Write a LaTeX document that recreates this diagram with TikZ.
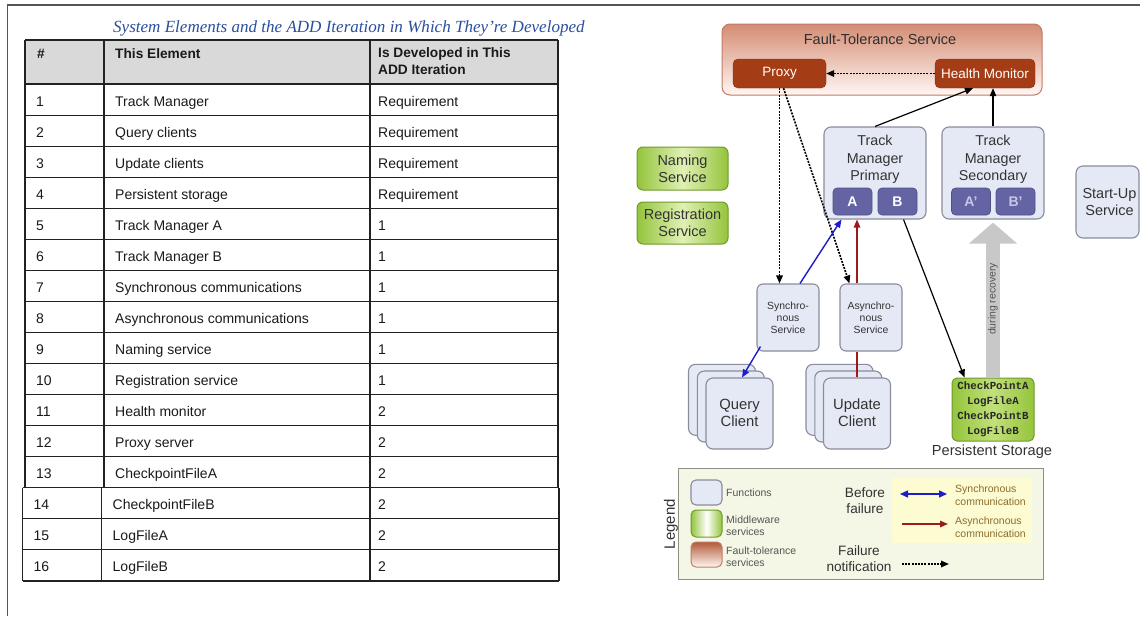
\documentclass[tikz,border=0pt]{standalone}
\usepackage{fontspec}
\setmainfont{Liberation Sans}
\newfontfamily\capfont{Liberation Serif}
\newfontfamily\codefont{Liberation Mono}
\usetikzlibrary{arrows.meta,calc}

\definecolor{framegray}{HTML}{555555}
\definecolor{titleblue}{HTML}{2B4F9E}
\definecolor{headgray}{HTML}{D9D9D9}
\definecolor{tabtext}{HTML}{1A1A1A}
\definecolor{tabline}{HTML}{222222}
\definecolor{fnfill}{HTML}{E4E9F5}
\definecolor{fnline}{HTML}{8A8C9A}
\definecolor{subfill}{HTML}{6464A4}
\definecolor{subtext}{HTML}{C8C8E6}
\definecolor{ftdark}{HTML}{A43D15}
\definecolor{fttop}{HTML}{D48C72}
\definecolor{ftbot}{HTML}{FFF7F4}
\definecolor{ftline}{HTML}{C27A66}
\definecolor{mwedge}{HTML}{94C43C}
\definecolor{mwmid}{HTML}{E0F0B4}
\definecolor{mwline}{HTML}{6F9A2C}
\definecolor{storemid}{HTML}{C2E07A}
\definecolor{syncblue}{HTML}{1C1CC8}
\definecolor{asyncred}{HTML}{9B1B1B}
\definecolor{recgray}{HTML}{C8C8C8}
\definecolor{legfill}{HTML}{F4F6E6}
\definecolor{legline}{HTML}{8E8E84}
\definecolor{noteyellow}{HTML}{FCFBD2}
\definecolor{notetext}{HTML}{8C6D2E}
\definecolor{darktext}{HTML}{333333}
\definecolor{smalltext}{HTML}{555555}

\tikzset{
  cell/.style={anchor=base west, inner sep=0pt, text=tabtext, font=\fontsize{14}{16}\selectfont},
  headcell/.style={anchor=base west, inner sep=0pt, text=tabtext, align=left, font=\bfseries\fontsize{13.7}{16.5}\selectfont},
  tabrule/.style={draw=tabline, line width=1.1pt},
  fn/.style={draw=fnline, fill=fnfill, rounded corners=7pt, line width=1.1pt, inner sep=0pt},
  subbox/.style={fill=subfill, draw=subfill!80!black, line width=0.6pt, rounded corners=4pt,
    text=white, font=\bfseries\fontsize{14}{16}\selectfont, minimum width=39pt, minimum height=27pt, inner sep=0pt},
  mw/.style={draw=mwline, line width=1pt, rounded corners=6pt, inner sep=0pt,
    left color=mwedge, right color=mwedge, middle color=mwmid},
  ftsvc/.style={fill=ftdark, draw=ftdark!80!black, rounded corners=5pt, text=white, inner sep=0pt,
    minimum height=29pt, font=\fontsize{13.5}{16}\selectfont},
  lbl/.style={text=darktext, align=center, inner sep=0pt},
  arr/.style={-{Triangle[length=8pt,width=6.5pt]}, line width=1.2pt},
  notify/.style={arr, dash pattern=on 2pt off 1.2pt, line width=1.6pt},
  smalllbl/.style={text=smalltext, align=left, anchor=west, inner sep=0pt, font=\fontsize{10.5}{12.5}\selectfont},
}

\begin{document}
\begin{tikzpicture}[x=1pt,y=-1pt]
\useasboundingbox (0,0) rectangle (1140,616);
\fill[white] (0,0) rectangle (1140,616);

% page frame
\draw[framegray, line width=1.6pt] (7.5,616) -- (7.5,5) -- (1140,5);

% ---------- table ----------
\node[anchor=base west, inner sep=0pt, text=titleblue,
      font=\capfont\itshape\fontsize{17.05}{19}\selectfont] (title) at (113,32.5)
  {System Elements and the ADD Iteration in Which They’re Developed};

\fill[headgray] (25,40) rectangle (558,84);
\foreach \k in {0,...,13} {
  \draw[tabrule] (25,{84+31.06*\k}) -- (558,{84+31.06*\k});
}
\draw[tabrule] (25,40) -- (558,40);
\foreach \xx in {25,104,370,558} {
  \draw[tabrule] (\xx,40) -- (\xx,487.8);
}
\foreach \k in {14,15,16} {
  \draw[tabrule] (22.5,{84+31.06*\k}) -- (559,{84+31.06*\k});
}
\draw[tabrule] (22.5,487.8) -- (559,487.8);
\foreach \xx in {22.5,101.5,370,559} {
  \draw[tabrule] (\xx,487.8) -- (\xx,581);
}

\node[headcell] (hnum) at (37,58) {\#};
\node[headcell] (helem) at (115,58) {This Element};
\node[headcell, anchor=north west] (hiter) at (378,47.5) {Is Developed in This\\ADD Iteration};

\foreach \num/\elem/\iter [count=\i] in {
  1/Track Manager/Requirement,
  2/Query clients/Requirement,
  3/Update clients/Requirement,
  4/Persistent storage/Requirement,
  5/Track Manager A/1,
  6/Track Manager B/1,
  7/Synchronous communications/1,
  8/Asynchronous communications/1,
  9/Naming service/1,
  10/Registration service/1,
  11/Health monitor/2,
  12/Proxy server/2,
  13/CheckpointFileA/2,
  14/CheckpointFileB/2,
  15/LogFileA/2,
  16/LogFileB/2}
{
  \pgfmathsetmacro\yb{84+31.06*(\i-0.5)+6.5}
  \pgfmathsetmacro\dx{\i>13 ? -2.5 : 0}
  \node[cell] (num\i) at (36+\dx,\yb) {\num};
  \node[cell] (elem\i) at (115+\dx,\yb) {\elem};
  \node[cell] (iter\i) at (378,\yb) {\iter};
}

% ---------- architecture ----------
% fault-tolerance service
\node[draw=ftline, line width=1pt, rounded corners=8pt, top color=fttop, bottom color=ftbot,
      minimum width=320pt, minimum height=71pt, inner sep=0pt] (FT) at (882,59.5) {};
\node[lbl, font=\fontsize{14.5}{17}\selectfont, text=darktext!90!black] (FTlbl) at (880,39) {Fault-Tolerance Service};
\node[ftsvc, minimum width=93pt] (Proxy) at (779.5,73.5) {Proxy};
\node[ftsvc, minimum width=100pt] (HM) at (985,73.5) {Health Monitor};

% track managers
\node[fn, minimum width=102pt, minimum height=92pt] (TMP) at (875,173) {};
\node[lbl, font=\fontsize{14.3}{17.5}\selectfont] (TMPlbl) at (875,159.5) {Track\\Manager\\Primary};
\node[subbox] (A) at (852.5,201.5) {A};
\node[subbox] (B) at (897.5,201.5) {B};

\node[fn, minimum width=102pt, minimum height=92pt] (TMS) at (993,173) {};
\node[lbl, font=\fontsize{14.3}{17.5}\selectfont] (TMSlbl) at (993,159.5) {Track\\Manager\\Secondary};
\node[subbox, text=subtext] (A2) at (971,201.5) {A'};
\node[subbox, text=subtext] (B2) at (1015.5,201.5) {B'};

\node[fn, minimum width=63pt, minimum height=72pt] (SU) at (1107.5,202) {};
\node[lbl, font=\fontsize{14.5}{17}\selectfont] (SUlbl) at (1109.5,202) {Start-Up\\Service};

% middleware
\node[mw, minimum width=91pt, minimum height=43pt] (NS) at (682.5,168.5) {};
\node[lbl, font=\fontsize{14.5}{17}\selectfont] (NSlbl) at (682.5,168.5) {Naming\\Service};
\node[mw, minimum width=91pt, minimum height=42pt] (RS) at (682.5,223) {};
\node[lbl, font=\fontsize{14.5}{17}\selectfont] (RSlbl) at (682.5,223) {Registration\\Service};

% communication services
\node[fn, rounded corners=6pt, minimum width=62pt, minimum height=67pt] (Sync) at (788,317.5) {};
\node[lbl, font=\fontsize{10.4}{12}\selectfont] (Synclbl) at (788,318) {Synchro-\\nous\\Service};
\node[fn, rounded corners=6pt, minimum width=62pt, minimum height=67pt] (Async) at (871,317.5) {};
\node[lbl, font=\fontsize{10.4}{12}\selectfont] (Asynclbl) at (871,318) {Asynchro-\\nous\\Service};

% client stacks
\node[fn, minimum width=67pt, minimum height=71pt] (QCb) at (722,399.8) {};
\node[fn, minimum width=67pt, minimum height=71pt] (QCm) at (730.8,406.5) {};
\node[fn, minimum width=67pt, minimum height=71pt] (QC) at (739.5,413.5) {};
\node[lbl, font=\fontsize{14.8}{17}\selectfont] (QClbl) at (739.5,412.5) {Query\\Client};

\node[fn, minimum width=67pt, minimum height=71pt] (UCb) at (839.5,399.8) {};
\node[fn, minimum width=67pt, minimum height=71pt] (UCm) at (848.3,406.5) {};
\node[fn, minimum width=67pt, minimum height=71pt] (UC) at (857,413.5) {};
\node[lbl, font=\fontsize{14.8}{17}\selectfont] (UClbl) at (857,412.5) {Update\\Client};

% persistent storage
\node[draw=mwline, line width=1pt, rounded corners=5pt, inner sep=0pt,
      left color=mwedge, right color=mwedge, middle color=storemid,
      minimum width=82pt, minimum height=63pt] (PS) at (993,409.5) {};
\node[lbl, text=black!85, font=\codefont\bfseries\fontsize{10.8}{15}\selectfont] (PSlbl) at (993,409)
  {CheckPointA\\LogFileA\\CheckPointB\\LogFileB};
\node[lbl, font=\fontsize{14.6}{17}\selectfont] (PScap) at (992,451.5) {Persistent Storage};

% recovery path
\draw[recgray, line width=14pt, -{Triangle[length=21pt,width=47pt]}]
  (PS.north) -- ($(TMS.south)+(0,3)$);
\node[lbl, rotate=90, text=smalltext, font=\fontsize{10.4}{12}\selectfont] (rec) at (993,299) {during recovery};

% connectors
\draw[notify] (HM.west) -- (Proxy.east);
\draw[arr] (TMP.north) -- ($(HM.south west)!0.38!(HM.south east)$);
\draw[arr] (TMS.north) -- (TMS.north |- HM.south);
\draw[notify] (Proxy.south) -- (Proxy.south |- Sync.north);
\draw[notify] ($(Proxy.south)+(4,0)$) -- ($(Async.north west)+(10,0)$);
\draw[arr, syncblue, line width=1.4pt] ($(Sync.north)+(12,0)$) -- ($(TMP.south west)+(18,0)$);
\draw[arr, syncblue, line width=1.4pt] ($(Sync.south west)+(4,-5)$) -- ($(QC.north)+(2.5,0)$);
\draw[asyncred, line width=1.2pt] (UC.north) -- (UC.north |- Async.south);
\draw[arr, asyncred] (UC.north |- Async.north) -- (UC.north |- TMP.south);
\draw[arr] ($(TMP.south east)+(-23,0)$) -- ($(PS.north west)+(13,0)$);

% ---------- legend ----------
\node[draw=legline, fill=legfill, line width=1pt, minimum width=365pt, minimum height=111pt, inner sep=0pt] (LG) at (860.5,523.5) {};
\node[lbl, rotate=90, font=\fontsize{15}{17}\selectfont] (LGlbl) at (671,524) {Legend};

\node[fn, rounded corners=5pt, minimum width=31pt, minimum height=25pt] (kfn) at (706.5,492.5) {};
\node[mw, rounded corners=5pt, left color=mwedge, right color=mwedge, middle color=white,
      minimum width=31pt, minimum height=27pt] (kmw) at (706.5,523.5) {};
\node[draw=ftline, line width=1pt, rounded corners=5pt, top color=ftdark!85, bottom color=ftbot,
      minimum width=31pt, minimum height=25pt, inner sep=0pt] (kft) at (706.5,554.5) {};
\node[smalllbl] (kfnlbl) at (726,493) {Functions};
\node[smalllbl] (kmwlbl) at (726,525.5) {Middleware\\services};
\node[smalllbl] (kftlbl) at (726,556.5) {Fault-tolerance\\services};

\node[lbl, font=\fontsize{13.6}{16}\selectfont] (before) at (865,501) {Before\\failure};
\node[lbl, font=\fontsize{13.6}{16}\selectfont] (fail) at (859,559) {Failure\\notification};

\node[fill=noteyellow, minimum width=140pt, minimum height=65pt, inner sep=0pt] (NB) at (962,510.5) {};
\coordinate (s1) at (900,494);
\coordinate (s2) at (947,494);
\coordinate (r1) at (902,524);
\coordinate (r2) at (948,524);
\coordinate (f1) at (902,564);
\coordinate (f2) at (949,564);
\draw[syncblue, line width=1.4pt, {Triangle[length=8pt,width=7pt]}-{Triangle[length=8pt,width=7pt]}] (s1) -- (s2);
\draw[arr, asyncred, line width=1.4pt] (r1) -- (r2);
\draw[notify] (f1) -- (f2);
\node[smalllbl, text=notetext] (ksync) at (955,495) {Synchronous\\communication};
\node[smalllbl, text=notetext] (kasync) at (955,527) {Asynchronous\\communication};

\end{tikzpicture}
\end{document}
